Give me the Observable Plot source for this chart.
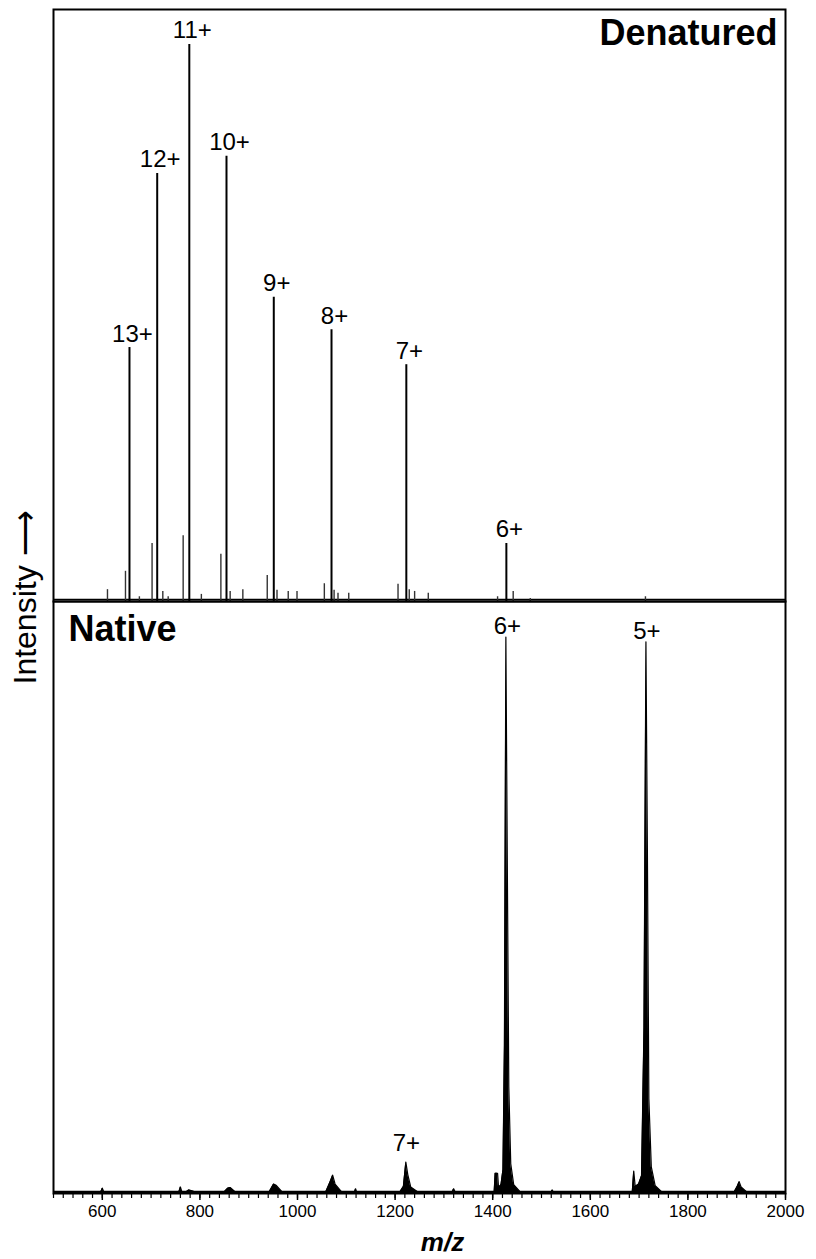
<!DOCTYPE html>
<html><head><meta charset="utf-8">
<script src="https://cdn.jsdelivr.net/npm/d3@7"></script>
<script src="https://cdn.jsdelivr.net/npm/@observablehq/plot@0.6"></script>
<style>
body{margin:0;background:#fff}
#chart{width:816px;height:1259px}
</style>
</head><body><div id="chart"></div>
<script>
// Panels
const panels = ["Denatured", "Native"];

// Denatured spectrum: main charge-state peaks (m/z, relative intensity)
const denMainMz  = [655.7, 712.5, 778.3, 854.5, 951.4, 1069.7, 1223, 1428];
const denMainInt = [42.9, 72.3, 94.1, 75.2, 51.4, 45.9, 40.0, 9.8];
const denMainLabels = ["13+", "12+", "11+", "10+", "9+", "8+", "7+", "6+"];

// Denatured spectrum: satellite / adduct peaks
const denSatMz  = [610.6, 647.5, 676, 702, 724, 735, 765.7, 803, 843, 862, 888, 938, 958, 981, 999, 1055, 1075, 1083, 1105, 1206, 1229, 1240, 1268, 1410, 1442, 1477, 1713];
const denSatInt = [2.0, 5.1, 0.8, 9.8, 1.7, 0.8, 11.1, 1.2, 8.0, 1.7, 2.0, 4.4, 1.9, 1.7, 1.7, 3.0, 1.9, 1.4, 1.4, 2.9, 2.0, 1.7, 1.4, 0.8, 1.7, 0.5, 0.8];

// Native spectrum profile (m/z, relative intensity)
const nativeMz  = [500, 597, 600, 603, 757, 760, 763, 772, 777, 790, 850, 857, 862, 872, 942, 951, 956, 968,
  1058, 1066, 1072, 1077, 1090, 1117, 1119, 1121, 1210, 1217, 1222, 1226, 1232, 1246, 1317, 1320, 1323,
  1403, 1405, 1410, 1412, 1417, 1421, 1424, 1427, 1430, 1433, 1437, 1443, 1456, 1520, 1522, 1524,
  1686, 1689, 1692, 1699, 1705, 1710, 1714, 1717, 1720, 1725, 1733, 1746, 1895, 1901, 1905, 1909, 1920, 2000];
const nativeInt = [0.3, 0.3, 0.9, 0.3, 0.3, 1.1, 0.3, 0.3, 0.6, 0.3, 0.3, 0.9, 1.0, 0.3, 0.3, 1.6, 1.4, 0.3,
  0.3, 1.8, 3.1, 1.6, 0.3, 0.3, 0.8, 0.3, 0.3, 1.2, 5.3, 3.2, 1.1, 0.3, 0.3, 0.8, 0.3,
  0.3, 3.4, 3.4, 1.0, 1.5, 4.0, 25, 94, 55, 18, 5, 1.5, 0.3, 0.3, 0.6, 0.3,
  0.3, 3.8, 1.2, 1.6, 3.0, 28, 93.2, 58, 16, 4.5, 1.3, 0.3, 0.3, 1.2, 2.0, 1.1, 0.3, 0.3];

// Native labels
const nativeLabelMz = [1223, 1428, 1714];
const nativeLabelInt = [5.3, 94, 93.2];
const nativeLabels = ["7+", "6+", "5+"];

// Axis ticks
const majorTicks = [600, 800, 1000, 1200, 1400, 1600, 1800, 2000];
const minorTicks = d3.range(500, 2001, 20);

// Tables
const denMain = denMainMz.map((mz, i) => ({mz, int: denMainInt[i], label: denMainLabels[i], panel: "Denatured"}));
const denSat = denSatMz.map((mz, i) => ({mz, int: denSatInt[i], panel: "Denatured"}));
const native = nativeMz.map((mz, i) => ({mz, int: nativeInt[i], panel: "Native"}));
const nativeLab = nativeLabelMz.map((mz, i) => ({mz, int: nativeLabelInt[i], label: nativeLabels[i], panel: "Native"}));
const nativeLabBig = nativeLab.filter(d => d.label !== "7+");
const nativeLabSmall = nativeLab.filter(d => d.label === "7+");
const baselines = panels.map(p => ({panel: p, v: 0.35}));

const chart = Plot.plot({
  width: 816,
  height: 1259,
  marginLeft: 53,
  marginRight: 31,
  marginTop: 8,
  marginBottom: 66,
  style: {fontFamily: "'Liberation Sans', Arial, sans-serif", color: "black", background: "white"},
  x: {domain: [500, 2000], label: null},
  y: {domain: [0, 100], axis: null},
  fy: {domain: panels, padding: 0, axis: null, label: null},
  marks: [
    Plot.ruleY(baselines, {y: "v", fy: "panel", stroke: "black", strokeWidth: 1.5}),
    Plot.ruleX(denSat, {x: "mz", y1: 0, y2: "int", fy: "panel", stroke: "#333", strokeWidth: 1.4}),
    Plot.ruleX(denMain, {x: "mz", y1: 0, y2: "int", fy: "panel", stroke: "black", strokeWidth: 2}),
    Plot.areaY(native, {x: "mz", y: "int", fy: "panel", fill: "black"}),
    Plot.lineY(native, {x: "mz", y: "int", fy: "panel", stroke: "black", strokeWidth: 1.2}),
    Plot.text(denMain, {x: "mz", y: "int", text: "label", fy: "panel", dy: -6, dx: 3, lineAnchor: "bottom", fontSize: 24, fill: "black"}),
    Plot.text(nativeLabBig, {x: "mz", y: "int", text: "label", fy: "panel", dy: -3, dx: 1, lineAnchor: "bottom", fontSize: 24, fill: "black"}),
    Plot.text(nativeLabSmall, {x: "mz", y: "int", text: "label", fy: "panel", dy: -11, dx: 0, lineAnchor: "bottom", fontSize: 24, fill: "black"}),
    Plot.text([{panel: "Denatured"}], {fy: "panel", text: "panel", frameAnchor: "top-right", dx: -8, dy: 10, lineAnchor: "top", textAnchor: "end", fontSize: 36, fontWeight: "bold", fill: "black"}),
    Plot.text([{panel: "Native"}], {fy: "panel", text: "panel", frameAnchor: "top-left", dx: 15, dy: 14, lineAnchor: "top", textAnchor: "start", fontSize: 36, fontWeight: "bold", fill: "black"}),
    Plot.text([{panel: "Native"}], {fy: "panel", text: () => "m/z", frameAnchor: "bottom", dx: 23, dy: 57, lineAnchor: "bottom", fontSize: 26, fontWeight: "bold", fontStyle: "italic", fill: "black"}),
    Plot.text([{panel: "Denatured"}], {fy: "panel", text: () => "Intensity \u27F6", frameAnchor: "bottom-left", dx: -18, dy: 83, rotate: -90, lineAnchor: "bottom", textAnchor: "start", fontSize: 32, fill: "black"}),
    Plot.axisX({ticks: minorTicks, tickSize: 5, text: null, label: null, strokeWidth: 1.2}),
    Plot.axisX({ticks: majorTicks, tickSize: 7, tickPadding: 4, tickFormat: d3.format("d"), fontSize: 17, label: null, strokeWidth: 1.5, fill: "black"}),
    Plot.frame({stroke: "black", strokeWidth: 2})
  ]
});
document.getElementById("chart").appendChild(chart);
</script>
</body></html>
